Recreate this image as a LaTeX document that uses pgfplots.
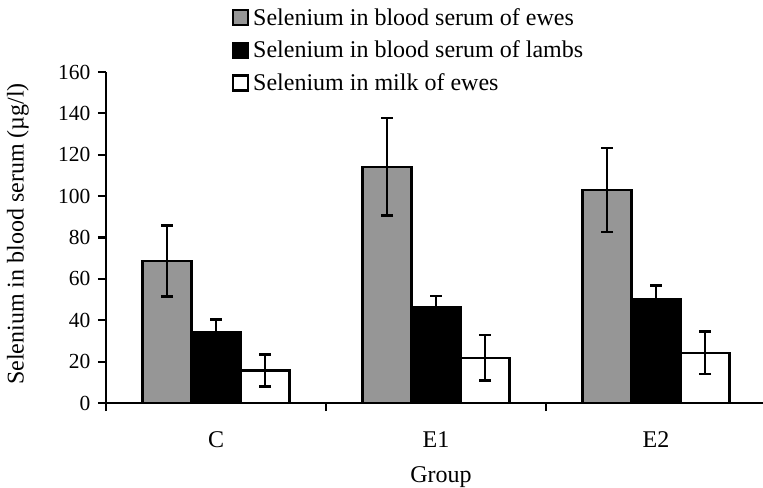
\documentclass[border=0pt]{standalone}
\usepackage{pgfplots}
\pgfplotsset{compat=1.18}
\usepackage{fontspec}
\setmainfont{Liberation Serif}
\definecolor{bargray}{RGB}{150,150,150}
\pgfplotsset{
  sqlegend/.style={legend image code/.code={\draw[##1, line width=2.2bp] (0bp,-7.5bp) rectangle (15bp,7.5bp);}},
  errstyle/.style={error bars/.cd, y dir=both, y explicit, error mark=|,
    error bar style={line width=2.6bp, black}, error mark options={line width=2.6bp, black, mark size=6bp}},
}
\begin{document}
\begin{tikzpicture}
\useasboundingbox (-106bp,-85bp) rectangle (657bp,403bp);
\begin{axis}[
  at={(0,0)}, anchor=south west,
  scale only axis, width=657bp, height=331bp,
  xmin=-0.5, xmax=2.486, ymin=0, ymax=160,
  axis x line*=bottom, axis y line*=left,
  axis line style={line width=2.2bp, black},
  ytick={0,20,...,160},
  xtick={-0.5,0.5,1.5}, xticklabels={},
  extra x ticks={0,1,2}, extra x tick labels={C,E1,E2},
  extra x tick style={major tick length=0pt, xticklabel style={font=\fontsize{24bp}{28bp}\selectfont, inner sep=0pt, anchor=north, yshift=-28bp}},
  tick align=outside, major tick length=8bp, tick style={line width=2.2bp, black},
  yticklabel style={font=\fontsize{21.5bp}{25bp}\selectfont, xshift=-4bp},
  /pgf/number format/assume math mode=true,
  xlabel={Group},
  xlabel style={at={(axis description cs:0.51,0)}, anchor=north, inner sep=0pt, yshift=-63bp, font=\fontsize{24bp}{28bp}\selectfont},
  ylabel={Selenium in blood serum (µg/l)},
  ylabel style={at={(axis description cs:-0.134,0.5106)}, anchor=center, font=\fontsize{24bp}{28bp}\selectfont},
  ybar=0pt, bar width=49bp,
  legend style={at={(axis description cs:0.1918,1.193)}, anchor=north west, draw=none, fill=none, inner sep=0pt, outer sep=0pt, row sep=14.5bp, font=\fontsize{24bp}{28bp}\selectfont, nodes={inner sep=0pt}, /tikz/every odd column/.append style={column sep=4bp}},
  legend cell align=left,
]
\addplot[fill=bargray, draw=black, line width=2.2bp, sqlegend, errstyle]
  coordinates {(0,68.6) +- (0,17.1) (1,114.1) +- (0,23.6) (2,103.0) +- (0,20.3)};
\addplot[fill=black, draw=black, line width=2.2bp, sqlegend, errstyle]
  coordinates {(0,34.1) +- (0,6.2) (1,46.2) +- (0,5.5) (2,50.4) +- (0,6.4)};
\addplot[fill=white, draw=black, line width=2.2bp, sqlegend, errstyle]
  coordinates {(0,15.7) +- (0,7.6) (1,21.8) +- (0,11.0) (2,24.3) +- (0,10.3)};
\legend{Selenium in blood serum of ewes, Selenium in blood serum of lambs, Selenium in milk of ewes}
\end{axis}
\end{tikzpicture}
\end{document}
